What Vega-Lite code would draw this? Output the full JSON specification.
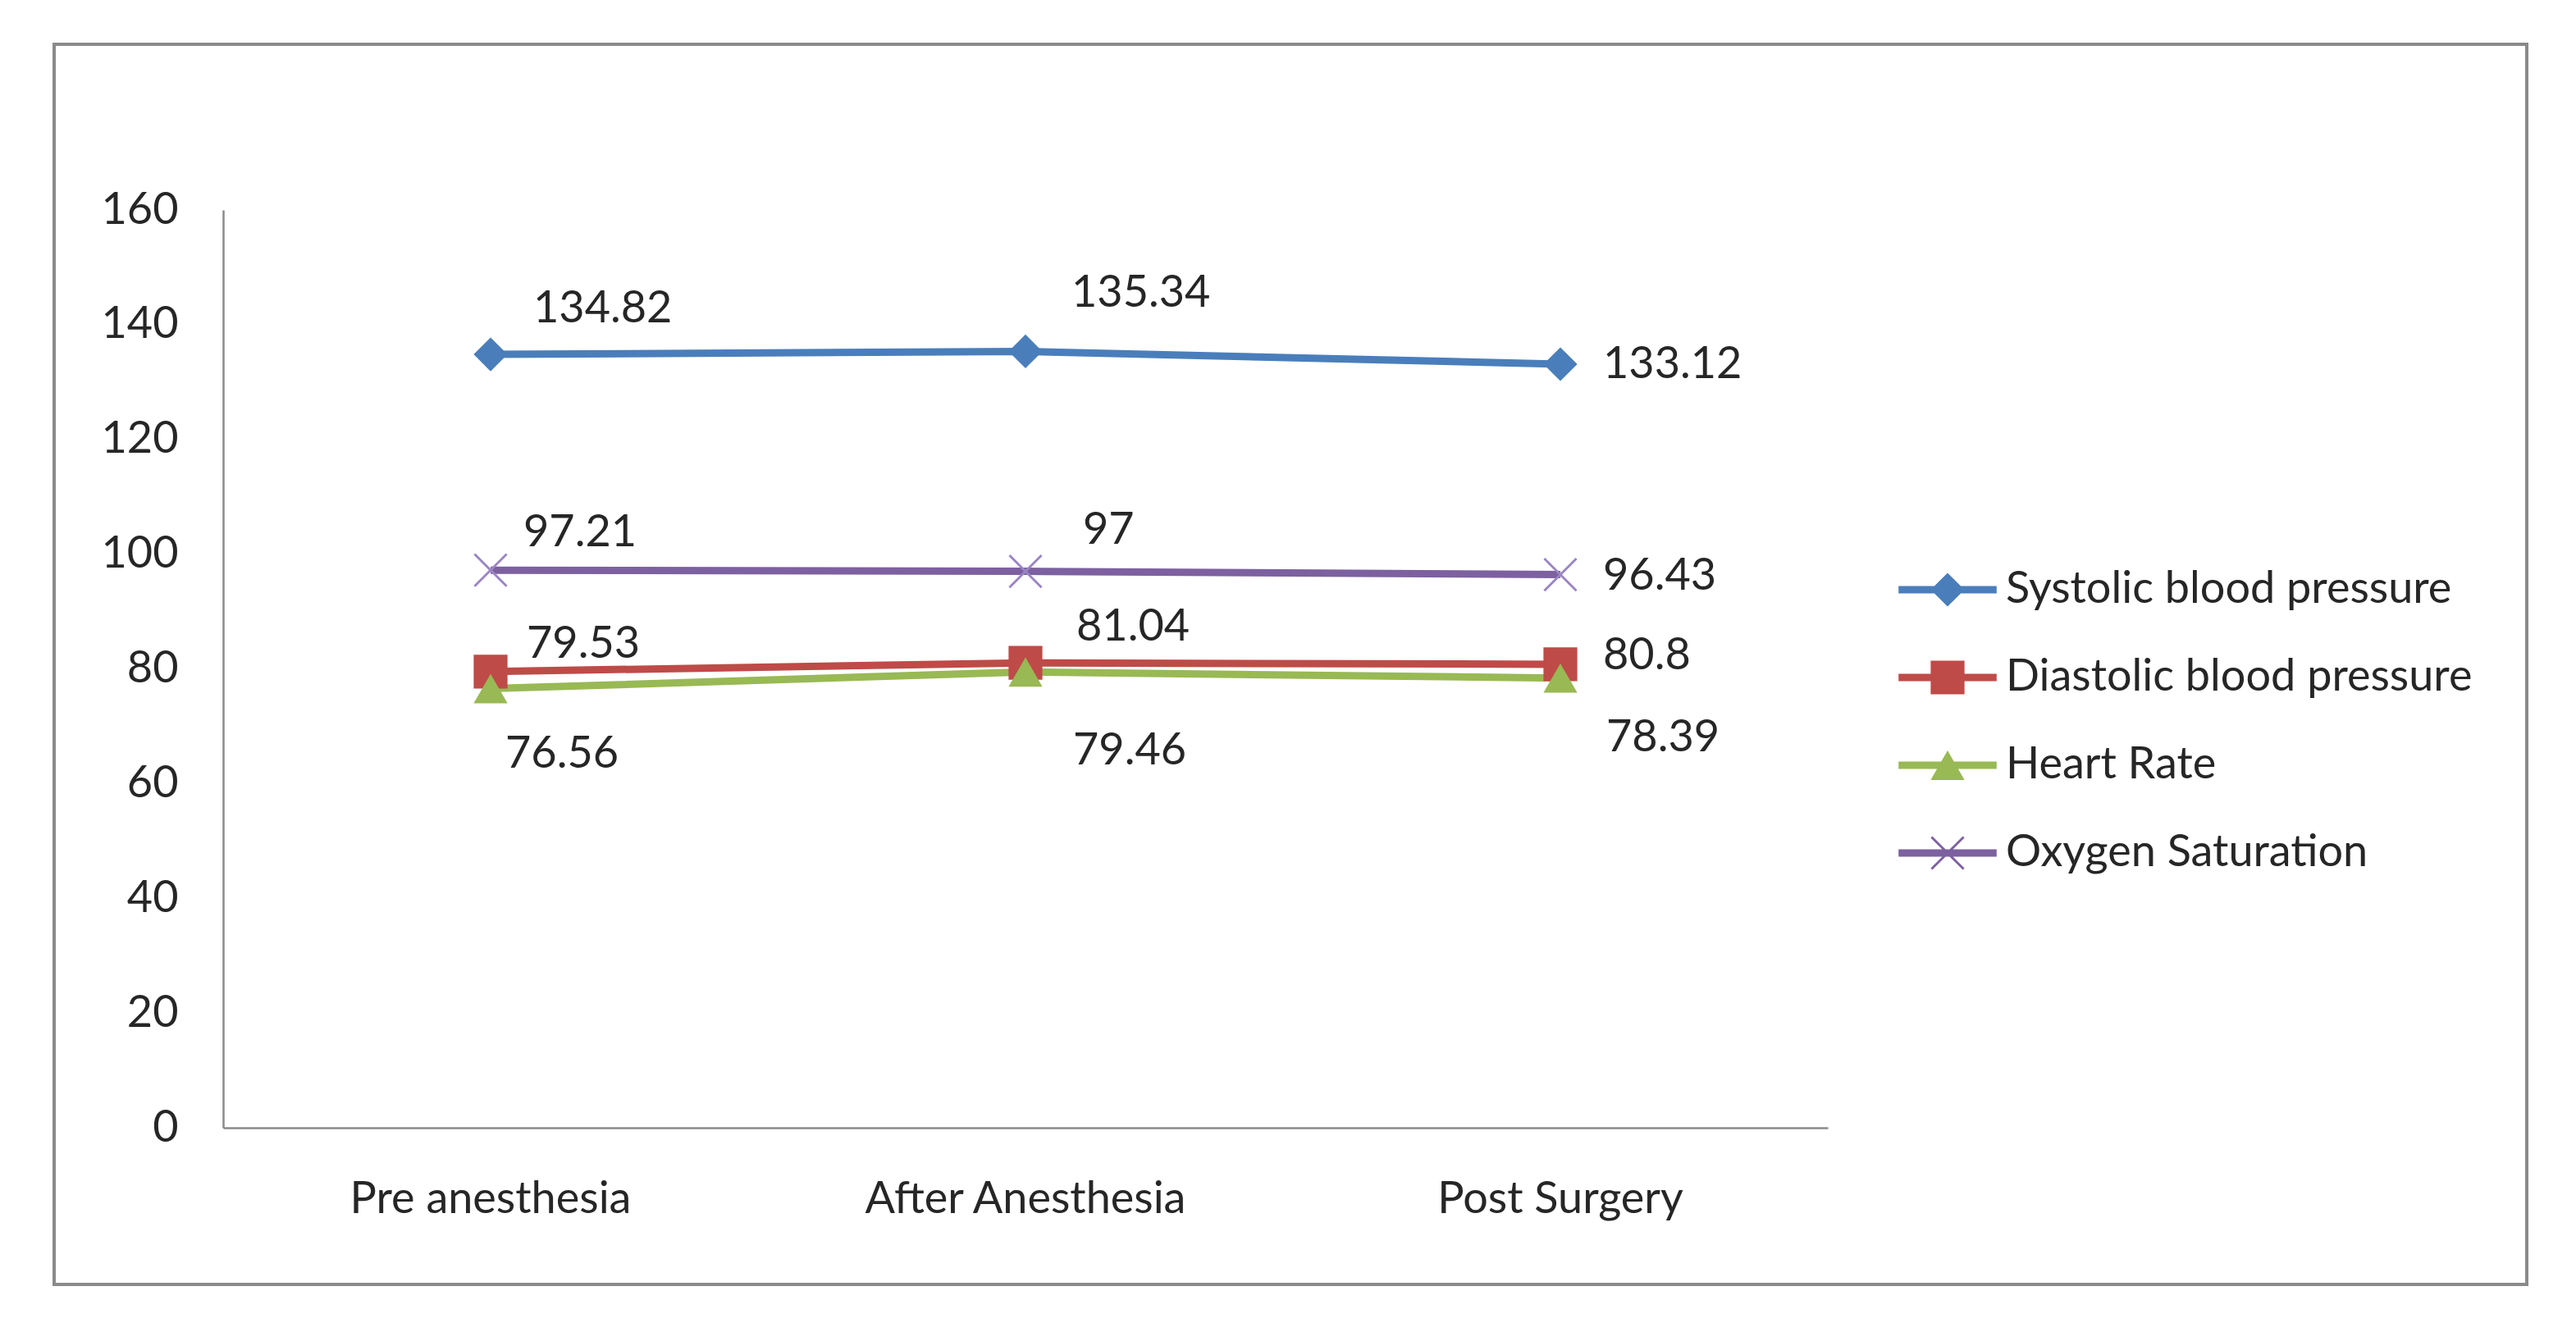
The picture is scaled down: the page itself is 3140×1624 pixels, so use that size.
{
  "$schema": "https://vega.github.io/schema/vega-lite/v6.json",
  "width": 3014,
  "height": 1512,
  "autosize": "none",
  "padding": {"left": 66, "top": 54, "right": 60, "bottom": 58},
  "background": "white",
  "config": {"view": {"stroke": "#8a8a8a", "strokeWidth": 4}, "font": "Lato"},
  "data": {
    "values": [
      {"phase": "Pre anesthesia", "series": "Systolic blood pressure", "value": 134.82},
      {"phase": "After Anesthesia", "series": "Systolic blood pressure", "value": 135.34},
      {"phase": "Post Surgery", "series": "Systolic blood pressure", "value": 133.12},
      {"phase": "Pre anesthesia", "series": "Diastolic blood pressure", "value": 79.53},
      {"phase": "After Anesthesia", "series": "Diastolic blood pressure", "value": 81.04},
      {"phase": "Post Surgery", "series": "Diastolic blood pressure", "value": 80.8},
      {"phase": "Pre anesthesia", "series": "Heart Rate", "value": 76.56},
      {"phase": "After Anesthesia", "series": "Heart Rate", "value": 79.46},
      {"phase": "Post Surgery", "series": "Heart Rate", "value": 78.39},
      {"phase": "Pre anesthesia", "series": "Oxygen Saturation", "value": 97.21},
      {"phase": "After Anesthesia", "series": "Oxygen Saturation", "value": 97},
      {"phase": "Post Surgery", "series": "Oxygen Saturation", "value": 96.43}
    ]
  },
  "encoding": {
    "x": {
      "field": "phase", "type": "nominal",
      "sort": ["Pre anesthesia", "After Anesthesia", "Post Surgery"],
      "scale": {"type": "band", "range": [206, 2162], "paddingInner": 0, "paddingOuter": 0},
      "axis": {"title": null, "offset": -191, "domainColor": "#8a8a8a", "domainWidth": 2.5, "ticks": false, "grid": false, "labelAngle": 0, "labelFont": "Lato", "labelFontSize": 54, "labelColor": "#262626", "labelPadding": 60, "labelLimit": 0}
    },
    "y": {
      "field": "value", "type": "quantitative",
      "scale": {"domain": [0, 160], "range": [1321, 202], "nice": false, "zero": true},
      "axis": {"title": null, "offset": -206, "values": [0, 20, 40, 60, 80, 100, 120, 140, 160], "domainColor": "#8a8a8a", "domainWidth": 2.5, "ticks": false, "grid": false, "labelFont": "Lato", "labelFontSize": 54, "labelColor": "#262626", "labelPadding": 55}
    }
  },
  "layer": [
    {
      "mark": {"type": "line", "strokeWidth": 9},
      "encoding": {
        "color": {"field": "series", "type": "nominal", "legend": null,
          "scale": {"domain": ["Systolic blood pressure", "Diastolic blood pressure", "Heart Rate", "Oxygen Saturation"], "range": ["#4A7EBB", "#BE4B48", "#98B954", "#7D60A0"]}}
      }
    },
    {
      "mark": {"type": "point", "filled": true, "size": 1700, "opacity": 1},
      "encoding": {
        "color": {"field": "series", "type": "nominal", "legend": null,
          "scale": {"domain": ["Systolic blood pressure", "Diastolic blood pressure", "Heart Rate", "Oxygen Saturation"], "range": ["#4A7EBB", "#BE4B48", "#98B954", "#9A86C2"]}},
        "shape": {"field": "series", "type": "nominal", "legend": null,
          "scale": {"domain": ["Systolic blood pressure", "Diastolic blood pressure", "Heart Rate", "Oxygen Saturation"], "range": ["diamond", "square", "triangle-up", "M-1,-0.9L-0.9,-1L1,0.9L0.9,1Z M-1,0.9L0.9,-1L1,-0.9L-0.9,1Z"]}}
      }
    },
    {
      "mark": {"type": "point", "filled": true, "size": 1700, "opacity": 0},
      "encoding": {
        "color": {"field": "series", "type": "nominal",
          "scale": {"domain": ["Systolic blood pressure", "Diastolic blood pressure", "Heart Rate", "Oxygen Saturation"], "range": ["#4A7EBB", "#BE4B48", "#98B954", "#7D60A0"]},
          "legend": {"orient": "none", "legendX": 2281, "legendY": 638, "title": null, "labelFont": "Lato", "labelFontSize": 54, "labelColor": "#262626", "symbolSize": 1700, "labelOffset": 44, "rowPadding": 53, "padding": 0, "symbolStrokeWidth": 0, "labelLimit": 900, "symbolOpacity": 1}},
        "shape": {"field": "series", "type": "nominal",
          "scale": {"domain": ["Systolic blood pressure", "Diastolic blood pressure", "Heart Rate", "Oxygen Saturation"], "range": [
            "M-2.9,-0.22L2.9,-0.22L2.9,0.22L-2.9,0.22Z M-1,0L0,-1L1,0L0,1Z",
            "M-2.9,-0.22L2.9,-0.22L2.9,0.22L-2.9,0.22Z M-1,-1L1,-1L1,1L-1,1Z",
            "M-2.9,-0.22L2.9,-0.22L2.9,0.22L-2.9,0.22Z M0,-0.87L1,0.87L-1,0.87Z",
            "M-2.9,-0.22L2.9,-0.22L2.9,0.22L-2.9,0.22Z M-1,-0.9L-0.9,-1L1,0.9L0.9,1Z M-1,0.9L0.9,-1L1,-0.9L-0.9,1Z"]},
          "legend": {"orient": "none", "legendX": 2281, "legendY": 638, "title": null, "labelFont": "Lato", "labelFontSize": 54, "labelColor": "#262626", "symbolSize": 1700, "labelOffset": 44, "rowPadding": 53, "padding": 0, "symbolStrokeWidth": 0, "labelLimit": 900, "symbolOpacity": 1}}
      }
    },
    {
      "transform": [{"filter": "datum.series === 'Systolic blood pressure' && datum.phase === 'Pre anesthesia'"}],
      "mark": {"type": "text", "align": "left", "baseline": "middle", "dx": 52, "dy": -55, "fontSize": 54, "font": "Lato", "color": "#262626"},
      "encoding": {"text": {"field": "value", "type": "nominal"}}
    },
    {
      "transform": [{"filter": "datum.series === 'Systolic blood pressure' && datum.phase === 'After Anesthesia'"}],
      "mark": {"type": "text", "align": "left", "baseline": "middle", "dx": 56, "dy": -70, "fontSize": 54, "font": "Lato", "color": "#262626"},
      "encoding": {"text": {"field": "value", "type": "nominal"}}
    },
    {
      "transform": [{"filter": "datum.series === 'Systolic blood pressure' && datum.phase === 'Post Surgery'"}],
      "mark": {"type": "text", "align": "left", "baseline": "middle", "dx": 52, "dy": 1, "fontSize": 54, "font": "Lato", "color": "#262626"},
      "encoding": {"text": {"field": "value", "type": "nominal"}}
    },
    {
      "transform": [{"filter": "datum.series === 'Oxygen Saturation' && datum.phase === 'Pre anesthesia'"}],
      "mark": {"type": "text", "align": "left", "baseline": "middle", "dx": 40, "dy": -45, "fontSize": 54, "font": "Lato", "color": "#262626"},
      "encoding": {"text": {"field": "value", "type": "nominal"}}
    },
    {
      "transform": [{"filter": "datum.series === 'Oxygen Saturation' && datum.phase === 'After Anesthesia'"}],
      "mark": {"type": "text", "align": "left", "baseline": "middle", "dx": 70, "dy": -50, "fontSize": 54, "font": "Lato", "color": "#262626"},
      "encoding": {"text": {"field": "value", "type": "nominal"}}
    },
    {
      "transform": [{"filter": "datum.series === 'Oxygen Saturation' && datum.phase === 'Post Surgery'"}],
      "mark": {"type": "text", "align": "left", "baseline": "middle", "dx": 52, "dy": 2, "fontSize": 54, "font": "Lato", "color": "#262626"},
      "encoding": {"text": {"field": "value", "type": "nominal"}}
    },
    {
      "transform": [{"filter": "datum.series === 'Diastolic blood pressure' && datum.phase === 'Pre anesthesia'"}],
      "mark": {"type": "text", "align": "left", "baseline": "middle", "dx": 44, "dy": -33, "fontSize": 54, "font": "Lato", "color": "#262626"},
      "encoding": {"text": {"field": "value", "type": "nominal"}}
    },
    {
      "transform": [{"filter": "datum.series === 'Diastolic blood pressure' && datum.phase === 'After Anesthesia'"}],
      "mark": {"type": "text", "align": "left", "baseline": "middle", "dx": 62, "dy": -43, "fontSize": 54, "font": "Lato", "color": "#262626"},
      "encoding": {"text": {"field": "value", "type": "nominal"}}
    },
    {
      "transform": [{"filter": "datum.series === 'Diastolic blood pressure' && datum.phase === 'Post Surgery'"}],
      "mark": {"type": "text", "align": "left", "baseline": "middle", "dx": 52, "dy": -10, "fontSize": 54, "font": "Lato", "color": "#262626"},
      "encoding": {"text": {"field": "value", "type": "nominal"}}
    },
    {
      "transform": [{"filter": "datum.series === 'Heart Rate' && datum.phase === 'Pre anesthesia'"}],
      "mark": {"type": "text", "align": "left", "baseline": "middle", "dx": 18, "dy": 80, "fontSize": 54, "font": "Lato", "color": "#262626"},
      "encoding": {"text": {"field": "value", "type": "nominal"}}
    },
    {
      "transform": [{"filter": "datum.series === 'Heart Rate' && datum.phase === 'After Anesthesia'"}],
      "mark": {"type": "text", "align": "left", "baseline": "middle", "dx": 58, "dy": 97, "fontSize": 54, "font": "Lato", "color": "#262626"},
      "encoding": {"text": {"field": "value", "type": "nominal"}}
    },
    {
      "transform": [{"filter": "datum.series === 'Heart Rate' && datum.phase === 'Post Surgery'"}],
      "mark": {"type": "text", "align": "left", "baseline": "middle", "dx": 56, "dy": 73, "fontSize": 54, "font": "Lato", "color": "#262626"},
      "encoding": {"text": {"field": "value", "type": "nominal"}}
    }
  ],
  "resolve": {"scale": {"color": "independent", "shape": "independent"}}
}
